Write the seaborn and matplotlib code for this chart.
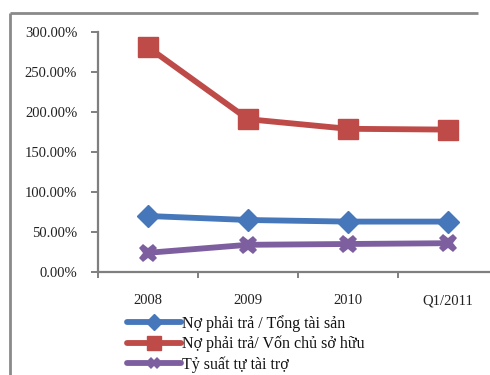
import matplotlib
matplotlib.use("Agg")
import matplotlib.pyplot as plt
from matplotlib.lines import Line2D
from matplotlib.ticker import FuncFormatter, FixedLocator
import seaborn as sns
import pandas as pd

periods = ["2008", "2009", "2010", "Q1/2011"]
no_tong_tai_san = [70, 65, 63, 63]
no_von_chu_so_huu = [281, 191, 179, 178]
ty_suat_tu_tai_tro = [24, 34, 35, 36]

series_names = [
    "Nợ phải trả / Tổng tài sản",
    "Nợ phải trả/ Vốn chủ sở hữu",
    "Tỷ suất tự tài trợ",
]
series_values = [no_tong_tai_san, no_von_chu_so_huu, ty_suat_tu_tai_tro]
colors = ["#4677BA", "#BE4B48", "#7D5FA0"]
markers = ["D", "s", "X"]
marker_sizes = [11, 14, 13]

rows = []
for name, vals in zip(series_names, series_values):
    for i, v in enumerate(vals):
        rows.append({"pos": i, "value": v, "series": name})
df = pd.DataFrame(rows)

sns.set_theme(style="white")
plt.rcParams["font.family"] = ["Liberation Serif", "DejaVu Serif"]

fig = plt.figure(figsize=(4.9, 3.75), dpi=100)
fig.patch.set_edgecolor("none")
fig.patch.set_linewidth(0)
# plot area runs to the right edge; each category slot is 100 px wide
ax = fig.add_axes([98 / 490, 1 - 272 / 375, 392 / 490, 240 / 375])

for name, col, mk, ms in zip(series_names, colors, markers, marker_sizes):
    sub = df[df["series"] == name]
    sns.lineplot(data=sub, x="pos", y="value", ax=ax, color=col, lw=4.2,
                 marker=mk, markersize=ms, markeredgecolor=col,
                 markeredgewidth=1 if mk != "X" else 0, label=name,
                 legend=False, clip_on=False)

ax.set_xlim(-0.5, 3.42)
ax.set_ylim(0, 300)
ax.set_xlabel("")
ax.set_ylabel("")
ax.set_yticks([0, 50, 100, 150, 200, 250, 300])
ax.yaxis.set_major_formatter(FuncFormatter(lambda v, p: f"{v:.2f}%"))
ax.set_xticks(range(len(periods)))
ax.set_xticklabels(periods)
ax.xaxis.set_minor_locator(FixedLocator([-0.5, 0.5, 1.5, 2.5]))

for side in ["top", "right"]:
    ax.spines[side].set_visible(False)
for side in ["left", "bottom"]:
    ax.spines[side].set_color("#7f7f7f")
    ax.spines[side].set_linewidth(1.6)

ax.tick_params(axis="y", which="major", direction="out", length=5, width=1.4,
               color="#7f7f7f", labelsize=10.5, pad=10, left=True)
ax.tick_params(axis="x", which="major", length=0, labelsize=10.5, pad=16)
ax.tick_params(axis="x", which="minor", direction="out", length=4, width=1.4,
               color="#7f7f7f", bottom=True)
for lbl in ax.get_xticklabels() + ax.get_yticklabels():
    lbl.set_color("#222222")

# outer chart frame: left and top edges only
frame_x = 10 / 490
frame_y = 1 - 13 / 375
fig.add_artist(Line2D([frame_x, frame_x], [0.001, frame_y],
                      transform=fig.transFigure, color="#8a8a8a", lw=2,
                      solid_capstyle="butt"))
fig.add_artist(Line2D([frame_x, 0.975], [frame_y, frame_y],
                      transform=fig.transFigure, color="#8a8a8a", lw=2,
                      solid_capstyle="butt"))

handles, labels = ax.get_legend_handles_labels()
leg = fig.legend(handles, labels, loc="upper left",
                 bbox_to_anchor=(127 / 490, 1 - 315 / 375),
                 frameon=False, fontsize=11.5, handlelength=3.4,
                 handletextpad=0.05, labelspacing=0.25, borderaxespad=0,
                 borderpad=0, markerscale=0.7)
for t in leg.get_texts():
    t.set_color("#111111")

fig.savefig("out.png", dpi=100)
